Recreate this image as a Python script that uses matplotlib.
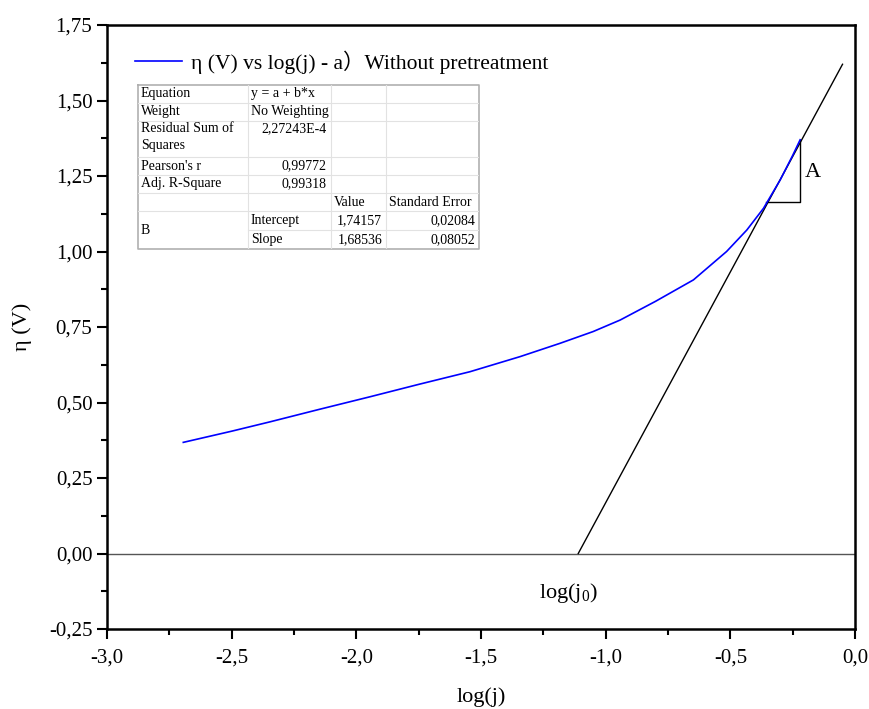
import numpy as np
import matplotlib.pyplot as plt

# Daten
log_j = [-2.694, -2.50, -2.346, -2.15, -1.945, -1.75, -1.544, -1.343, -1.183, -1.05,
         -0.942, -0.80, -0.648, -0.515, -0.434, -0.367, -0.30, -0.25, -0.22]
eta = [0.368, 0.405, 0.436, 0.477, 0.519, 0.560, 0.602, 0.652, 0.696, 0.735,
       0.773, 0.835, 0.906, 1.000, 1.071, 1.143, 1.237, 1.318, 1.370]

# Tangente (Endpunkte)
tan_x = [-1.11, -0.05]
tan_y = [0.00, 1.62]

# Steigungsdreieck A
tri_x = [-0.355, -0.22, -0.22]
tri_y = [1.165, 1.165, 1.37]

x_ticks = [-3.0, -2.5, -2.0, -1.5, -1.0, -0.5, 0.0]
x_labels = ['-3,0', '-2,5', '-2,0', '-1,5', '-1,0', '-0,5', '0,0']
y_ticks = [-0.25, 0.0, 0.25, 0.5, 0.75, 1.0, 1.25, 1.5, 1.75]
y_labels = ['-0,25', '0,00', '0,25', '0,50', '0,75', '1,00', '1,25', '1,50', '1,75']

table_rows = [
    ['Equation', 'y = a + b*x', '', ''],
    ['Weight', 'No Weighting', '', ''],
    ['Residual Sum of\nSquares', '2,27243E-4', '', ''],
    ["Pearson's r", '0,99772', '', ''],
    ['Adj. R-Square', '0,99318', '', ''],
    ['', '', 'Value', 'Standard Error'],
    ['B', 'Intercept', '1,74157', '0,02084'],
    ['', 'Slope', '1,68536', '0,08052'],
]

serif = 'Liberation Serif'
plt.rcParams['mathtext.fontset'] = 'custom'
plt.rcParams['mathtext.rm'] = 'Liberation Serif'
plt.rcParams['mathtext.it'] = 'Liberation Serif:italic'
W, H = 869, 709

fig = plt.figure(figsize=(W / 100, H / 100), dpi=100)
ax = fig.add_axes([107 / W, 1 - 629 / H, (855 - 107) / W, (629 - 25) / H])

ax.axhline(0, color='#555555', lw=1.0)
ax.plot(tan_x, tan_y, color='black', lw=1.0)
ax.plot(tri_x, tri_y, color='black', lw=1.0)
ax.plot(log_j, eta, color='blue', lw=1.2, label='η (V) vs log(j) - a\uff09Without pretreatment')

ax.text(-0.168, 1.262, 'A', fontsize=16, family=serif, ha='center', va='center')
ax.text(-1.15, -0.13, 'log(j$_0$)', fontsize=16, family=serif, ha='center', va='center')

ax.set_xlim(-3.0, 0.0)
ax.set_ylim(-0.25, 1.75)
ax.set_xticks(x_ticks)
ax.set_xticklabels(x_labels, family=serif, fontsize=15)
ax.set_yticks(y_ticks)
ax.set_yticklabels(y_labels, family=serif, fontsize=15)
ax.set_xticks(np.arange(-2.75, 0, 0.5), minor=True)
ax.set_yticks(np.arange(-0.125, 1.75, 0.25), minor=True)
ax.tick_params(which='major', direction='out', length=7, width=1.5, top=False, right=False)
ax.tick_params(axis='x', which='major', pad=7)
ax.tick_params(which='minor', direction='out', length=4, width=1.5, top=False, right=False)
for s in ax.spines.values():
    s.set_linewidth(1.8)

ax.set_xlabel('log(j)', family=serif, fontsize=16, labelpad=14)
ax.set_ylabel('η (V)', family=serif, fontsize=16, labelpad=12)

leg = ax.legend(loc='upper left', bbox_to_anchor=(0.011, 0.99), frameon=False,
                prop={'family': ['Liberation Serif', 'Noto Sans CJK SC'], 'size': 15.5},
                handlelength=2.2, handletextpad=0.4)

# Tabelle in Pixelkoordinaten
x0, x1, y0, y1 = 138, 479, 85, 249
tab = fig.add_axes([x0 / W, 1 - y1 / H, (x1 - x0) / W, (y1 - y0) / H])
tab.set_xlim(x0, x1)
tab.set_ylim(y1, y0)
tab.axis('off')
cols = [138, 248, 331, 386, 479]
rows = [85, 103, 121, 157, 175, 193, 211, 230, 249]
gc = '#b0b0b0'
tab.plot([x0, x1, x1, x0, x0], [y0, y0, y1, y1, y0], color=gc, lw=1.2, clip_on=False)
for i, yy in enumerate(rows[1:-1], 1):
    start = cols[1] if i == 7 else cols[0]
    tab.plot([start, x1], [yy, yy], color='#e2e2e2', lw=0.8)
for xx in cols[1:-1]:
    tab.plot([xx, xx], [y0, y1], color='#e2e2e2', lw=0.8)

right_align = {(2, 1), (3, 1), (4, 1), (6, 2), (6, 3), (7, 2), (7, 3)}
for r, row in enumerate(table_rows):
    for c, txt in enumerate(row):
        if not txt:
            continue
        if (r, c) in right_align:
            xt, ha = cols[c + 1] - 4, 'right'
        else:
            xt, ha = cols[c] + 3, 'left'
        if r == 2:
            yt, va = rows[r] + 1, 'top'
        elif r == 6 and c == 0:
            yt, va = (rows[6] + rows[8]) / 2, 'center'
        else:
            yt, va = (rows[r] + rows[r + 1]) / 2, 'center'
        tab.text(xt, yt, txt, fontsize=10, family=serif, ha=ha, va=va, linespacing=1.45)

fig.savefig('out.png', dpi=100)
